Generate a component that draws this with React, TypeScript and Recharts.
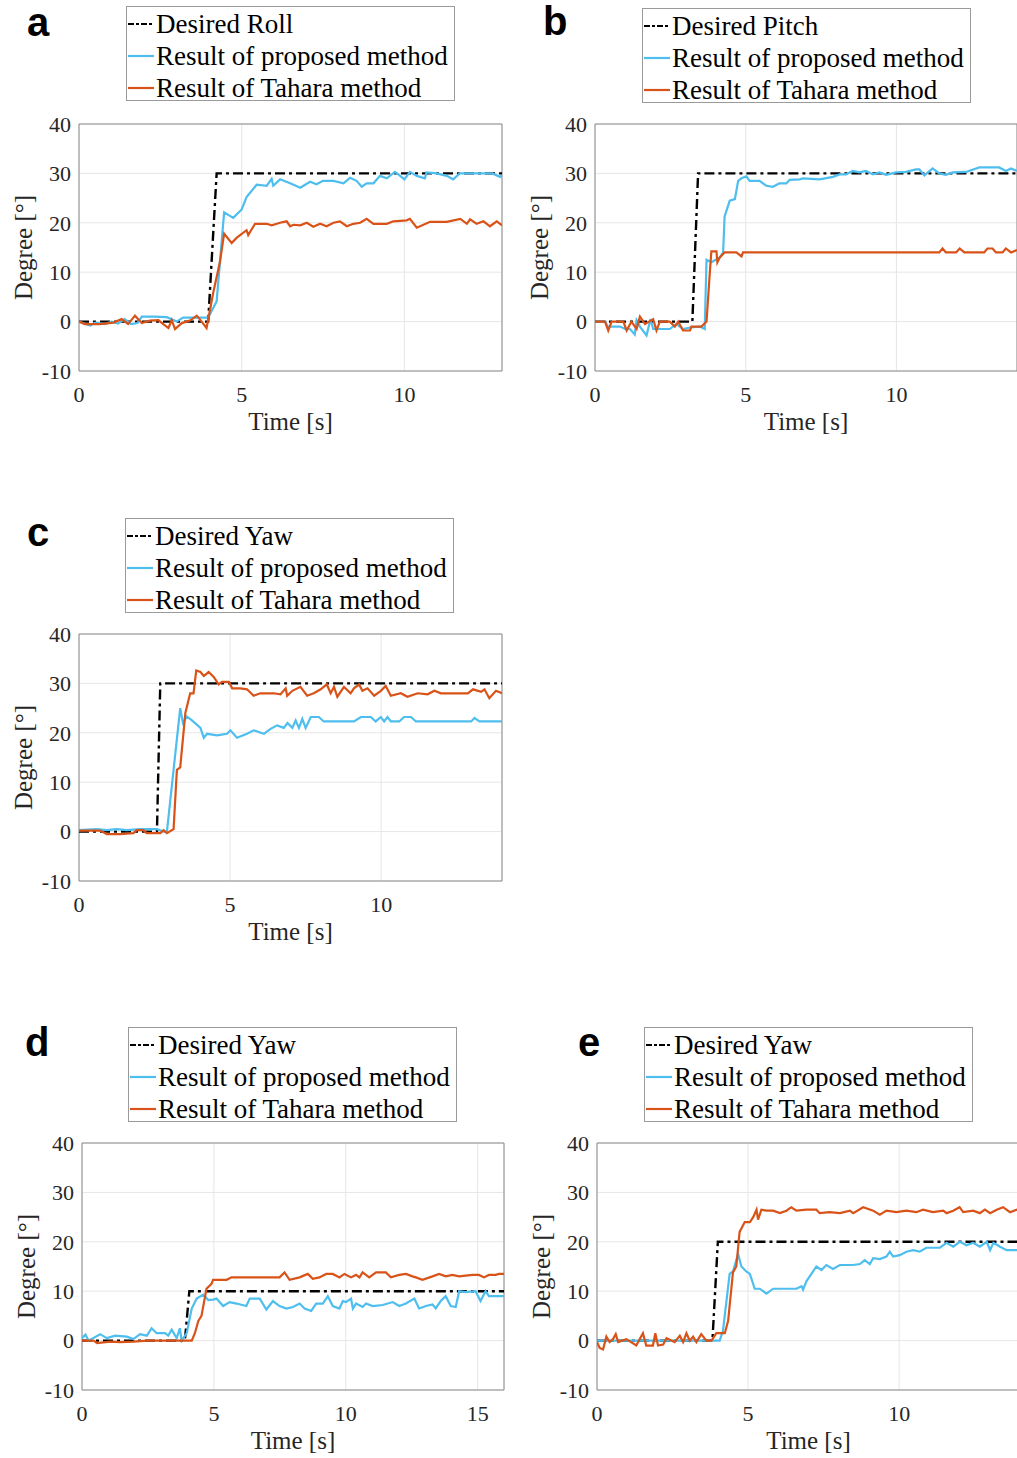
import { LineChart, Line, XAxis, YAxis, CartesianGrid, ReferenceArea, Label } from 'recharts'

const BLUE = '#4DBEEE'
const ORANGE = '#D95319'
const AXIS = '#262626'
const SERIF = '"Liberation Serif", "Times New Roman", serif'

const Y_TICKS = [-10, 0, 10, 20, 30, 40]
const X_TICKS_14 = [0, 5, 10]
const X_TICKS_16 = [0, 5, 10, 15]

// [time s, degree]
const aDesired = [[0, 0], [3.97, 0], [4.23, 30], [13, 30]]
const aProposed = [
  [0, 0], [0.2, -0.5], [0.35, -0.8], [0.5, -0.2], [0.8, -0.5], [1.0, 0], [1.2, -0.4], [1.4, 0.5], [1.6, -0.5],
  [1.8, -0.3], [1.93, 1.0], [2.3, 1.0], [2.7, 0.9], [3.0, 0], [3.2, 0.8], [3.6, 0.8], [3.97, 0.8], [4.23, 4.1],
  [4.46, 22.1], [4.74, 21], [5.0, 22.7], [5.15, 25.2], [5.46, 27.7], [5.77, 27.5], [5.92, 28.9], [5.97, 27.5],
  [6.18, 28.8], [6.49, 28], [6.8, 27.1], [7.1, 28.3], [7.3, 27.8], [7.5, 28.5], [7.82, 28.5], [8.13, 28],
  [8.33, 29.1], [8.53, 28.5], [8.69, 27.3], [8.84, 28], [9.05, 28], [9.25, 29.5], [9.46, 29], [9.71, 30.3],
  [9.87, 29.5], [10.0, 28.8], [10.17, 30.3], [10.38, 29.5], [10.63, 29], [10.68, 30.2], [10.99, 30], [11.3, 29.5],
  [11.5, 28.8], [11.7, 30], [12.1, 30], [12.4, 30], [12.7, 30], [12.94, 29.3], [13, 29.6],
]
const aTahara = [
  [0, 0], [0.18, -0.5], [0.64, -0.5], [1.06, -0.2], [1.31, 0.5], [1.51, -0.5], [1.72, 1.2], [1.93, -0.3],
  [2.18, 0.2], [2.44, 0.3], [2.59, -0.5], [2.75, -1.3], [2.85, 0.3], [2.95, -1.5], [3.16, -0.3], [3.41, 0.2],
  [3.62, 1.2], [3.77, 0], [3.92, -1.3], [4.13, 6], [4.33, 12], [4.46, 17.8], [4.69, 15.9], [4.85, 17],
  [5.15, 18.5], [5.2, 17.5], [5.41, 19.8], [5.77, 19.8], [5.92, 19.5], [6.18, 20], [6.38, 20.3], [6.49, 19.3],
  [6.59, 19.6], [6.8, 19.5], [7.0, 20], [7.2, 19.2], [7.41, 19.8], [7.61, 19.3], [7.82, 20], [8.02, 20.3],
  [8.23, 19.3], [8.43, 19.8], [8.64, 20], [8.84, 20.8], [9.05, 19.8], [9.46, 19.8], [9.66, 20.3], [10.07, 20.5],
  [10.17, 20.8], [10.38, 19], [10.79, 20.2], [11.3, 20.2], [11.72, 20.8], [11.92, 19.8], [12.02, 20.7],
  [12.22, 19.8], [12.43, 20.3], [12.63, 19.3], [12.84, 20.3], [13, 19.5],
]

const bDesired = [[0, 0], [3.23, 0], [3.42, 30], [14, 30]]
const bProposed = [
  [0, 0], [0.35, 0], [0.41, -1], [0.83, -1], [1.0, -1.5], [1.16, -1.5], [1.32, -2.6], [1.38, 0.3], [1.49, -1],
  [1.71, -2.8], [1.84, 0.5], [1.93, -1.5], [2.48, -1.5], [2.7, -0.5], [2.92, -1.5], [3.15, -1.2], [3.48, -1],
  [3.64, -1.5], [3.7, 12.5], [3.86, 12], [4.14, 13], [4.25, 14], [4.3, 21.3], [4.47, 24.5], [4.64, 24.8],
  [4.75, 28.5], [4.86, 29], [5.02, 29.4], [5.13, 28.5], [5.46, 28.5], [5.68, 27.5], [5.9, 27.3], [6.12, 28],
  [6.35, 28], [6.46, 28.7], [6.79, 28.8], [6.9, 29], [7.45, 28.8], [7.9, 29.3], [8.11, 29.8], [8.33, 29.8],
  [8.55, 30.5], [8.77, 30.2], [8.99, 30.5], [9.22, 29.8], [9.44, 30.2], [9.66, 29.7], [9.99, 30.2], [10.32, 30.3],
  [10.65, 30.8], [10.76, 30.8], [10.93, 29.6], [11.2, 31], [11.42, 30], [11.64, 29.7], [11.87, 30.2],
  [12.31, 30.3], [12.75, 31.2], [13.41, 31.2], [13.63, 30.5], [13.8, 31], [14, 30.5],
]
const bTahara = [
  [0, 0], [0.33, 0], [0.44, -1.8], [0.55, 0], [0.94, 0], [1.05, -1.8], [1.21, 0], [1.38, -1.5], [1.49, 1],
  [1.66, -0.5], [1.93, 0.5], [2.04, -1.8], [2.15, 0], [2.48, 0], [2.65, -1], [2.76, 0], [2.92, -1.8],
  [3.15, -1.8], [3.2, -1], [3.53, -1], [3.7, 0], [3.81, 10], [3.86, 14.2], [4.03, 14.2], [4.06, 12], [4.14, 13],
  [4.3, 14], [4.69, 14], [4.86, 13.2], [4.91, 14], [11.42, 14], [11.53, 14.8], [11.64, 14], [11.98, 14],
  [12.1, 14.8], [12.25, 14], [12.91, 14], [13.02, 14.8], [13.19, 14.8], [13.3, 14], [13.52, 14], [13.63, 14.8],
  [13.8, 14], [14, 14.5],
]

const cDesired = [[0, 0], [2.58, 0], [2.69, 30], [14, 30]]
const cProposed = [
  [0, 0.3], [0.59, 0.5], [0.92, 0.3], [1.25, 0.5], [1.58, 0.3], [2.02, 0.5], [2.58, 0.5], [2.8, 0], [2.91, 0],
  [3.35, 25], [3.44, 22], [3.57, 23.3], [3.74, 22.5], [4.02, 21], [4.13, 19], [4.24, 19.8], [4.57, 19.5],
  [4.9, 19.8], [5.01, 20.5], [5.23, 19], [5.56, 19.8], [5.78, 20.5], [6.12, 19.8], [6.34, 20.8], [6.56, 21.5],
  [6.78, 21], [6.9, 22], [7.06, 21], [7.17, 22.5], [7.28, 21], [7.39, 22.8], [7.5, 21], [7.67, 23.2],
  [7.94, 23.2], [8.1, 22.3], [8.44, 22.3], [9.1, 22.3], [9.33, 23.2], [9.66, 23.2], [9.82, 22.3], [9.99, 23.2],
  [10.1, 22.3], [10.21, 23.2], [10.32, 22.3], [10.6, 22.3], [10.76, 23.2], [10.99, 23.2], [11.15, 22.3],
  [11.54, 22.3], [12.98, 22.3], [13.09, 23], [13.25, 22.3], [14, 22.3],
]
const cTahara = [
  [0, 0.2], [0.7, 0.2], [0.92, -0.5], [1.36, -0.5], [1.8, -0.3], [1.91, 0.3], [2.13, 0.3], [2.24, -0.3],
  [2.69, -0.3], [2.8, 0.3], [2.91, -0.3], [3.13, 0.5], [3.24, 12.5], [3.35, 13], [3.52, 24], [3.68, 28],
  [3.79, 28], [3.88, 32.6], [4.02, 32.3], [4.13, 31.5], [4.29, 32.3], [4.46, 31.3], [4.62, 29.8], [4.73, 30.3],
  [4.96, 30.3], [5.07, 29], [5.34, 29], [5.56, 28.8], [5.78, 27.5], [6.0, 28], [6.45, 28], [6.67, 27.8],
  [6.84, 29], [6.89, 27.5], [7.06, 28.5], [7.33, 29.3], [7.55, 27.5], [7.77, 28], [8.0, 28.8], [8.2, 29.8],
  [8.33, 28], [8.44, 29.3], [8.55, 27.3], [8.77, 29.3], [8.99, 28], [9.1, 29], [9.27, 29.8], [9.38, 28.5],
  [9.55, 29], [9.77, 27.5], [9.99, 28.5], [10.15, 29.5], [10.32, 27.5], [10.65, 28], [10.87, 27.3], [11.21, 28],
  [11.54, 27.8], [11.76, 28.5], [11.98, 28], [12.87, 28], [13.04, 28.8], [13.31, 28.3], [13.42, 28.8],
  [13.58, 27], [13.8, 28.5], [14, 28],
]

const dDesired = [[0, 0], [3.9, 0], [4.07, 10], [16, 10]]
const dProposed = [
  [0, 0.5], [0.13, 1.2], [0.25, 0], [0.69, 1.3], [0.94, 0.5], [1.26, 1], [1.7, 0.8], [1.95, 0.3], [2.2, 1.3],
  [2.46, 1], [2.64, 2.5], [2.83, 1.5], [3.15, 1.5], [3.27, 1], [3.4, 2.2], [3.59, 0.5], [3.71, 2.5], [3.78, 0],
  [3.97, 1.5], [4.16, 6.5], [4.35, 8.5], [4.6, 9.3], [4.79, 8.2], [4.97, 8.3], [5.1, 8.5], [5.35, 7], [5.6, 7.8],
  [5.86, 7.5], [6.23, 7], [6.36, 8.5], [6.74, 8.5], [6.99, 6.3], [7.24, 8], [7.49, 7], [7.75, 6.5], [8.0, 6.8],
  [8.25, 7.5], [8.44, 6.5], [8.69, 6], [8.88, 7.5], [9.13, 7.5], [9.32, 9], [9.51, 7], [9.76, 6.5], [9.89, 8],
  [10.01, 7.8], [10.2, 8.5], [10.27, 6.5], [10.39, 7.5], [10.64, 6.8], [10.77, 7.5], [11.02, 7], [11.4, 7.2],
  [11.78, 7.8], [12.03, 7], [12.28, 7.5], [12.6, 8.5], [12.78, 6.5], [13.04, 7], [13.29, 7.3], [13.41, 6.5],
  [13.6, 8], [13.79, 9], [13.98, 7], [14.17, 6.8], [14.3, 10], [14.55, 9.8], [14.92, 10], [15.11, 8],
  [15.3, 10], [15.43, 9], [15.81, 9], [16, 9],
]
const dTahara = [
  [0, 0], [0.44, 0], [0.57, -0.5], [1.07, -0.2], [1.45, -0.3], [1.95, -0.2], [2.46, 0], [2.96, 0], [3.46, 0],
  [3.97, 0], [4.16, 0], [4.28, 1.5], [4.41, 4], [4.53, 5], [4.72, 10.5], [4.91, 11.5], [4.97, 12.3],
  [5.48, 12.3], [5.67, 12.8], [6.23, 12.8], [6.99, 12.8], [7.49, 12.8], [7.68, 13.8], [7.87, 12.3],
  [8.25, 12.8], [8.56, 13.5], [8.75, 12.5], [9.0, 12.8], [9.26, 13.5], [9.51, 13.5], [9.76, 12.8], [9.95, 13.5],
  [10.2, 12.8], [10.39, 13.3], [10.52, 12.8], [10.64, 13.8], [10.89, 12.8], [11.15, 13.8], [11.52, 13.8],
  [11.71, 12.8], [12.03, 13.3], [12.28, 13.5], [12.53, 13], [12.66, 12.8], [12.91, 12.3], [13.29, 13],
  [13.54, 13.5], [13.79, 13], [14.04, 13.3], [14.3, 13], [14.8, 13.3], [15.05, 13.3], [15.24, 12.8],
  [15.43, 13.3], [15.68, 13.3], [15.81, 13.5], [16, 13.5],
]

const eDesired = [[0, 0], [3.82, 0], [4.0, 20], [14, 20]]
const eProposed = [
  [0, 0], [4.06, 0], [4.17, 2], [4.39, 13.5], [4.5, 14], [4.67, 17.5], [4.78, 15], [4.94, 14], [5.06, 13.5],
  [5.22, 10.5], [5.39, 10.5], [5.61, 9.5], [5.83, 10.5], [6.27, 10.5], [6.6, 10.5], [6.77, 11], [6.82, 10.3],
  [6.93, 12], [7.04, 13], [7.26, 15], [7.43, 14.3], [7.59, 15.3], [7.81, 14.5], [8.04, 15.3], [8.48, 15.3],
  [8.7, 15.5], [8.86, 16.3], [9.03, 15.5], [9.14, 16.7], [9.36, 16.5], [9.58, 17], [9.69, 18], [9.8, 17],
  [10.02, 17.3], [10.24, 18], [10.46, 18.3], [10.68, 18], [10.9, 18.8], [11.35, 18.8], [11.57, 19.8],
  [11.79, 19], [12.01, 20], [12.23, 19.3], [12.45, 19.8], [12.67, 19], [12.9, 20], [13.01, 18.3], [13.12, 19.8],
  [13.34, 19], [13.56, 18.3], [13.89, 18.3], [14, 18.3],
]
const eTahara = [
  [0, -0.3], [0.09, -1.5], [0.2, -1.8], [0.31, 0.8], [0.42, -0.3], [0.53, 0.3], [0.62, 1.3], [0.7, -0.3],
  [0.97, 0.3], [1.3, -1], [1.52, 1.5], [1.63, -1], [1.85, -1], [1.93, 1.5], [2.02, -1], [2.19, -0.8], [2.3, 0.5],
  [2.57, -0.3], [2.74, 1], [2.85, -0.3], [2.96, 1.5], [3.07, 0], [3.18, 0.8], [3.29, -0.3], [3.45, 1.3],
  [3.62, 0], [3.79, 0], [3.95, 1.5], [4.12, 1.5], [4.23, 1.5], [4.34, 4], [4.5, 13.8], [4.61, 15], [4.72, 22],
  [4.89, 24], [5.06, 24], [5.17, 25], [5.28, 26.5], [5.33, 24.5], [5.44, 26.5], [5.61, 26.3], [5.83, 26.3],
  [6.05, 25.8], [6.27, 26.3], [6.43, 27], [6.6, 26.3], [6.93, 26.5], [7.26, 26.5], [7.37, 25.8], [7.7, 26],
  [8.04, 25.8], [8.37, 26.3], [8.48, 25.8], [8.81, 27], [9.14, 26.3], [9.36, 25.5], [9.58, 26.3], [9.91, 26],
  [10.24, 26.3], [10.57, 26], [10.79, 26.5], [11.12, 26], [11.46, 26.3], [11.57, 25.8], [11.79, 26.3],
  [12.0, 27], [12.12, 26], [12.45, 26.3], [12.67, 25.8], [12.84, 26.5], [13.01, 25.8], [13.23, 26.5],
  [13.44, 27], [13.67, 26], [13.89, 26.5], [14, 26.3],
]

const toPoints = (arr: number[][]) => arr.map(([t, v]) => ({ t, v }))

// plot box in page pixels: left, top, right, bottom
const PANELS = [
  { letter: 'a', desiredName: 'Desired Roll', desired: aDesired, proposed: aProposed, tahara: aTahara, xMax: 13, xTicks: X_TICKS_14,
    box: [79, 124, 502, 371], legend: [126, 6], letterPos: [27, 36] },
  { letter: 'b', desiredName: 'Desired Pitch', desired: bDesired, proposed: bProposed, tahara: bTahara, xMax: 14, xTicks: X_TICKS_14,
    box: [595, 124, 1017, 371], legend: [642, 8], letterPos: [543, 35] },
  { letter: 'c', desiredName: 'Desired Yaw', desired: cDesired, proposed: cProposed, tahara: cTahara, xMax: 14, xTicks: X_TICKS_14,
    box: [79, 634, 502, 881], legend: [125, 518], letterPos: [27, 546] },
  { letter: 'd', desiredName: 'Desired Yaw', desired: dDesired, proposed: dProposed, tahara: dTahara, xMax: 16, xTicks: X_TICKS_16,
    box: [82, 1143, 504, 1390], legend: [128, 1027], letterPos: [25, 1056] },
  { letter: 'e', desiredName: 'Desired Yaw', desired: eDesired, proposed: eProposed, tahara: eTahara, xMax: 14, xTicks: X_TICKS_14,
    box: [597, 1143, 1020, 1390], legend: [644, 1027], letterPos: [578, 1056] },
]

const Y_AXIS_W = 80
const X_AXIS_H = 59
const TOP_PAD = 20

const tickStyle = { fontFamily: SERIF, fontSize: 22, fill: AXIS }
const labelStyle = { fontFamily: SERIF, fontSize: 25, fill: AXIS }

// eslint-disable-next-line @typescript-eslint/no-explicit-any
function XTick({ x, y, payload }: any) {
  return (
    <text x={x} y={y} dy="0.71em" textAnchor="middle" style={tickStyle}>
      {payload.value}
    </text>
  )
}

// eslint-disable-next-line @typescript-eslint/no-explicit-any
function YTick({ x, y, payload }: any) {
  return (
    <text x={x} y={y} dy="0.355em" textAnchor="end" style={tickStyle}>
      {payload.value}
    </text>
  )
}

// eslint-disable-next-line @typescript-eslint/no-explicit-any
function YLabel({ viewBox }: any) {
  const cx = viewBox.x + 24
  const cy = viewBox.y + viewBox.height / 2
  return (
    <text x={cx} y={cy} transform={`rotate(-90 ${cx} ${cy})`} textAnchor="middle" dominantBaseline="central"
      style={labelStyle}>Degree [°]</text>
  )
}

// eslint-disable-next-line @typescript-eslint/no-explicit-any
function XLabel({ viewBox }: any) {
  return (
    <text x={viewBox.x + viewBox.width / 2} y={viewBox.y + X_AXIS_H} textAnchor="middle" style={labelStyle}>
      Time [s]
    </text>
  )
}

function LegendBox({ x, y, desiredName }: { x: number; y: number; desiredName: string }) {
  const rows = [
    { name: desiredName, color: '#000', dash: '6 2 3 2' },
    { name: 'Result of proposed method', color: BLUE, dash: undefined },
    { name: 'Result of Tahara method', color: ORANGE, dash: undefined },
  ]
  return (
    <div style={{
      position: 'absolute', left: x, top: y, width: 329, height: 95, boxSizing: 'border-box',
      border: '1px solid #9a9a9a', background: '#fff', paddingTop: 1,
    }}>
      {rows.map(r => (
        <div key={r.name} style={{ display: 'flex', alignItems: 'center', height: 32 }}>
          <svg width={27} height={4} style={{ marginLeft: 1, flex: 'none' }}>
            <line x1={0} y1={2} x2={26} y2={2} stroke={r.color} strokeWidth={2.2} strokeDasharray={r.dash} />
          </svg>
          <span style={{ fontFamily: SERIF, fontSize: 27, lineHeight: '32px', color: '#000', whiteSpace: 'nowrap', marginLeft: 1 }}>
            {r.name}
          </span>
        </div>
      ))}
    </div>
  )
}

// eslint-disable-next-line @typescript-eslint/no-explicit-any
function Panel({ p }: { p: any }) {
  const [L, T, R, B] = p.box
  const width = Y_AXIS_W + (R - L) + 6
  const height = TOP_PAD + (B - T) + X_AXIS_H + 12
  return (
    <div style={{ position: 'absolute', left: L - Y_AXIS_W, top: T - TOP_PAD, fontFamily: SERIF }}>
      <LineChart width={width} height={height} margin={{ top: TOP_PAD, right: 6, bottom: 12, left: 0 }}>
        <CartesianGrid stroke="#e6e6e6" />
        <XAxis type="number" dataKey="t" domain={[0, p.xMax]} ticks={p.xTicks} allowDataOverflow
          tick={<XTick />} tickLine={false} axisLine={false} tickSize={0} tickMargin={15} height={X_AXIS_H}>
          <Label content={XLabel} />
        </XAxis>
        <YAxis type="number" domain={[-10, 40]} ticks={Y_TICKS} allowDataOverflow
          tick={<YTick />} tickLine={false} axisLine={false} tickSize={0} tickMargin={8} width={Y_AXIS_W}>
          <Label content={YLabel} />
        </YAxis>
        <ReferenceArea x1={0} x2={p.xMax} y1={-10} y2={40} fill="none" fillOpacity={0}
          stroke="#8a8a8a" strokeWidth={1} ifOverflow="visible" />
        <Line data={toPoints(p.desired)} dataKey="v" type="linear" stroke="#000" strokeWidth={2.4}
          strokeDasharray="10 4 3 4" dot={false} isAnimationActive={false} />
        <Line data={toPoints(p.proposed)} dataKey="v" type="linear" stroke={BLUE} strokeWidth={2.2}
          dot={false} isAnimationActive={false} />
        <Line data={toPoints(p.tahara)} dataKey="v" type="linear" stroke={ORANGE} strokeWidth={2.2}
          dot={false} isAnimationActive={false} />
      </LineChart>
    </div>
  )
}

export default function App() {
  return (
    <div style={{ position: 'absolute', left: 0, top: 0, width: 1017, height: 1458, overflow: 'hidden', background: '#fff' }}>
      {PANELS.map(p => (
        <div key={p.letter}>
          <Panel p={p} />
          <LegendBox x={p.legend[0]} y={p.legend[1]} desiredName={p.desiredName} />
          <div style={{
            position: 'absolute', left: p.letterPos[0], top: p.letterPos[1] - 34,
            fontFamily: '"Liberation Sans", Arial, sans-serif', fontWeight: 700, fontSize: 40, lineHeight: '40px', color: '#000',
          }}>{p.letter}</div>
        </div>
      ))}
    </div>
  )
}
